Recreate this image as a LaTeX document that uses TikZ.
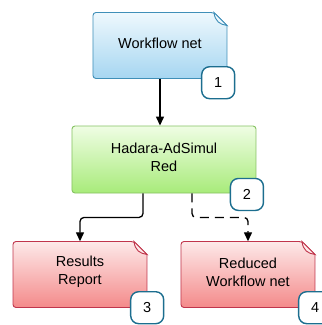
\documentclass[tikz,border=0pt]{standalone}
\usepackage{fontspec}
\setmainfont{Liberation Sans}
\usetikzlibrary{positioning, arrows.meta}
\definecolor{wfTop}{HTML}{EEF8FD}
\definecolor{wfBottom}{HTML}{A6D6F1}
\definecolor{wfLine}{HTML}{3F8FB8}
\definecolor{simTop}{HTML}{EFFDE4}
\definecolor{simBottom}{HTML}{A8EB7A}
\definecolor{simLine}{HTML}{86C262}
\definecolor{outTop}{HTML}{FDE9E9}
\definecolor{outBottom}{HTML}{F48A8A}
\definecolor{outLine}{HTML}{C0354C}
\definecolor{badgeLine}{HTML}{1C6E8F}

\begin{document}
\begin{tikzpicture}[
    x=1pt, y=-1pt,
    font=\fontsize{14.5}{18}\selectfont,
    pics/docbox/.style n args={4}{code={
        \path [top color=#2, bottom color=#3, draw=#4, line width=0.9pt]
            (67, -20) [rounded corners=3pt]
            -- (67, 33) -- (-67, 33) -- (-67, -33) -- (54, -33) [sharp corners] -- cycle;
        \path [draw=#4, fill=#2, line width=0.9pt]
            (54, -33) -- (67, -20) .. controls (60, -21) and (55, -24) .. (54, -33) -- cycle;
        \node (-box) [minimum width=134pt, minimum height=66pt, inner sep=0pt] at (0, 0) {};
        \node (-text) [align=center, inner sep=0pt] at (0, -2.5) {#1};
    }},
    procbox/.style = {
        top color=simTop,
        bottom color=simBottom,
        draw=simLine,
        line width=0.9pt,
        rounded corners=3pt,
        minimum width=184pt,
        minimum height=67pt,
        align=center,
    },
    badge/.style = {
        draw=badgeLine,
        fill=white,
        line width=1.4pt,
        rounded corners=8pt,
        minimum width=33pt,
        minimum height=32pt,
        inner sep=0pt,
    },
    flow/.style = {
        line width=1.3pt,
        rounded corners=4pt,
        -{Triangle[length=9pt, width=8pt]},
    },
    optional/.style = {
        flow,
        dash pattern=on 9pt off 6pt,
    },
]
\useasboundingbox (0, 0) rectangle (322, 325);
\pic (wf) at (160, 45.5) {docbox={Workflow net}{wfTop}{wfBottom}{wfLine}};
\node (hadara) [procbox] at (164, 159.5) {};
\node (hadara-text) [align=center, inner sep=0pt] at (164, 157) {Hadara-AdSimul\\Red};
\pic (res) at (80, 274.5) {docbox={Results\\Report}{outTop}{outBottom}{outLine}};
\pic (red) at (248, 274.5) {docbox={Reduced\\Workflow net}{outTop}{outBottom}{outLine}};
\draw [flow] (wf-box.south) -- (wf-box.south |- hadara.north);
\draw [flow] ([xshift=-21pt]hadara.south) -- ++(0, 24) -| (res-box.north);
\draw [optional] ([xshift=28pt]hadara.south) -- ++(0, 24) -| (red-box.north);
\node (n1) [badge] at ([shift={(-9, 4)}]wf-box.south east) {1};
\node (n2) [badge] at ([shift={(-9.5, 1)}]hadara.south east) {2};
\node (n3) [badge] at (res-box.south east) {3};
\node (n4) [badge] at (red-box.south east) {4};
\end{tikzpicture}
\end{document}
